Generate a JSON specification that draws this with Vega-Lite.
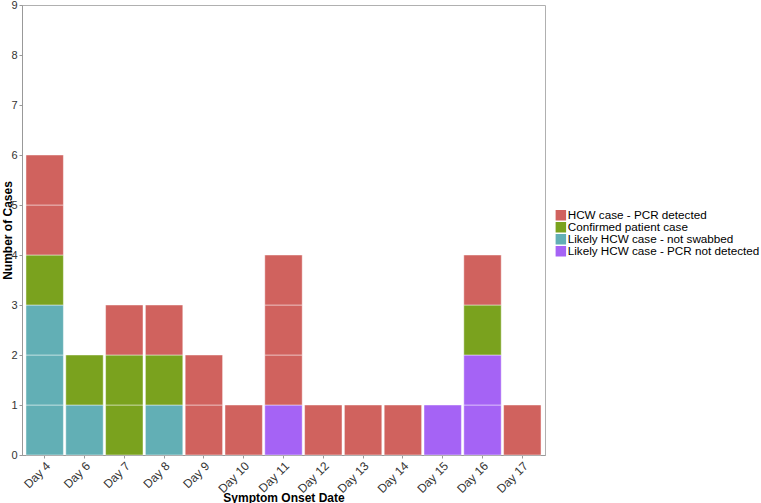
{
  "$schema": "https://vega.github.io/schema/vega-lite/v6.json",
  "width": 523,
  "height": 450,
  "autosize": "none",
  "padding": {"left": 22, "top": 5, "right": 216, "bottom": 48},
  "background": "white",
  "config": {
    "font": "Liberation Sans",
    "view": {"stroke": "#b0b0b0", "strokeWidth": 1},
    "axis": {"grid": false, "domainColor": "#999999", "tickColor": "#999999", "labelColor": "#333333", "labelFontSize": 11, "titleFontSize": 12, "titleFontWeight": "bold", "titleColor": "black", "tickSize": 3, "labelPadding": 2}
  },
  "data": {"values": [
    {"day": "Day 4", "type": "Likely HCW case - not swabbed", "ord": 1, "cases": 1, "id": 1},
    {"day": "Day 4", "type": "Likely HCW case - not swabbed", "ord": 1, "cases": 1, "id": 2},
    {"day": "Day 4", "type": "Likely HCW case - not swabbed", "ord": 1, "cases": 1, "id": 3},
    {"day": "Day 4", "type": "Confirmed patient case", "ord": 2, "cases": 1, "id": 4},
    {"day": "Day 4", "type": "HCW case - PCR detected", "ord": 3, "cases": 1, "id": 5},
    {"day": "Day 4", "type": "HCW case - PCR detected", "ord": 3, "cases": 1, "id": 6},
    {"day": "Day 6", "type": "Likely HCW case - not swabbed", "ord": 1, "cases": 1, "id": 7},
    {"day": "Day 6", "type": "Confirmed patient case", "ord": 2, "cases": 1, "id": 8},
    {"day": "Day 7", "type": "Confirmed patient case", "ord": 2, "cases": 1, "id": 9},
    {"day": "Day 7", "type": "Confirmed patient case", "ord": 2, "cases": 1, "id": 10},
    {"day": "Day 7", "type": "HCW case - PCR detected", "ord": 3, "cases": 1, "id": 11},
    {"day": "Day 8", "type": "Likely HCW case - not swabbed", "ord": 1, "cases": 1, "id": 12},
    {"day": "Day 8", "type": "Confirmed patient case", "ord": 2, "cases": 1, "id": 13},
    {"day": "Day 8", "type": "HCW case - PCR detected", "ord": 3, "cases": 1, "id": 14},
    {"day": "Day 9", "type": "HCW case - PCR detected", "ord": 3, "cases": 1, "id": 15},
    {"day": "Day 9", "type": "HCW case - PCR detected", "ord": 3, "cases": 1, "id": 16},
    {"day": "Day 10", "type": "HCW case - PCR detected", "ord": 3, "cases": 1, "id": 17},
    {"day": "Day 11", "type": "Likely HCW case - PCR not detected", "ord": 1, "cases": 1, "id": 18},
    {"day": "Day 11", "type": "HCW case - PCR detected", "ord": 3, "cases": 1, "id": 19},
    {"day": "Day 11", "type": "HCW case - PCR detected", "ord": 3, "cases": 1, "id": 20},
    {"day": "Day 11", "type": "HCW case - PCR detected", "ord": 3, "cases": 1, "id": 21},
    {"day": "Day 12", "type": "HCW case - PCR detected", "ord": 3, "cases": 1, "id": 22},
    {"day": "Day 13", "type": "HCW case - PCR detected", "ord": 3, "cases": 1, "id": 23},
    {"day": "Day 14", "type": "HCW case - PCR detected", "ord": 3, "cases": 1, "id": 24},
    {"day": "Day 15", "type": "Likely HCW case - PCR not detected", "ord": 1, "cases": 1, "id": 25},
    {"day": "Day 16", "type": "Likely HCW case - PCR not detected", "ord": 1, "cases": 1, "id": 26},
    {"day": "Day 16", "type": "Likely HCW case - PCR not detected", "ord": 1, "cases": 1, "id": 27},
    {"day": "Day 16", "type": "Confirmed patient case", "ord": 2, "cases": 1, "id": 28},
    {"day": "Day 16", "type": "HCW case - PCR detected", "ord": 3, "cases": 1, "id": 29},
    {"day": "Day 17", "type": "HCW case - PCR detected", "ord": 3, "cases": 1, "id": 30}
  ]},
  "mark": {"type": "bar", "stroke": "white", "strokeWidth": 1, "strokeOpacity": 0.45},
  "encoding": {
    "x": {"field": "day", "type": "nominal", "sort": null, "title": "Symptom Onset Date",
      "scale": {"paddingInner": 0.06, "paddingOuter": 0.1},
      "axis": {"labelAngle": -45, "labelAlign": "right", "labelBaseline": "top", "labelFontSize": 12, "titleBaseline": "middle", "titleY": 42}},
    "y": {"field": "cases", "type": "quantitative", "aggregate": "sum", "stack": "zero", "title": "Number of Cases",
      "scale": {"domain": [0, 9], "nice": false},
      "axis": {"values": [0,1,2,3,4,5,6,7,8,9], "titleX": -15, "titleY": 225, "titleBaseline": "middle", "titleAlign": "center", "titleAngle": -90}},
    "detail": {"field": "id", "type": "nominal"},
    "order": {"field": "ord", "type": "quantitative"},
    "color": {"field": "type", "type": "nominal",
      "scale": {"domain": ["HCW case - PCR detected", "Confirmed patient case", "Likely HCW case - not swabbed", "Likely HCW case - PCR not detected"],
                "range": ["#d0625e", "#7aa21e", "#62afb5", "#a563f5"]},
      "legend": {"title": null, "orient": "none", "legendX": 533, "legendY": 205, "symbolType": "square", "symbolSize": 110, "symbolStrokeWidth": 0, "labelFontSize": 11.7, "labelColor": "black", "labelLimit": 0, "labelOffset": 1, "rowPadding": 0, "clipHeight": 10.5, "symbolOpacity": 1}}
  }
}
